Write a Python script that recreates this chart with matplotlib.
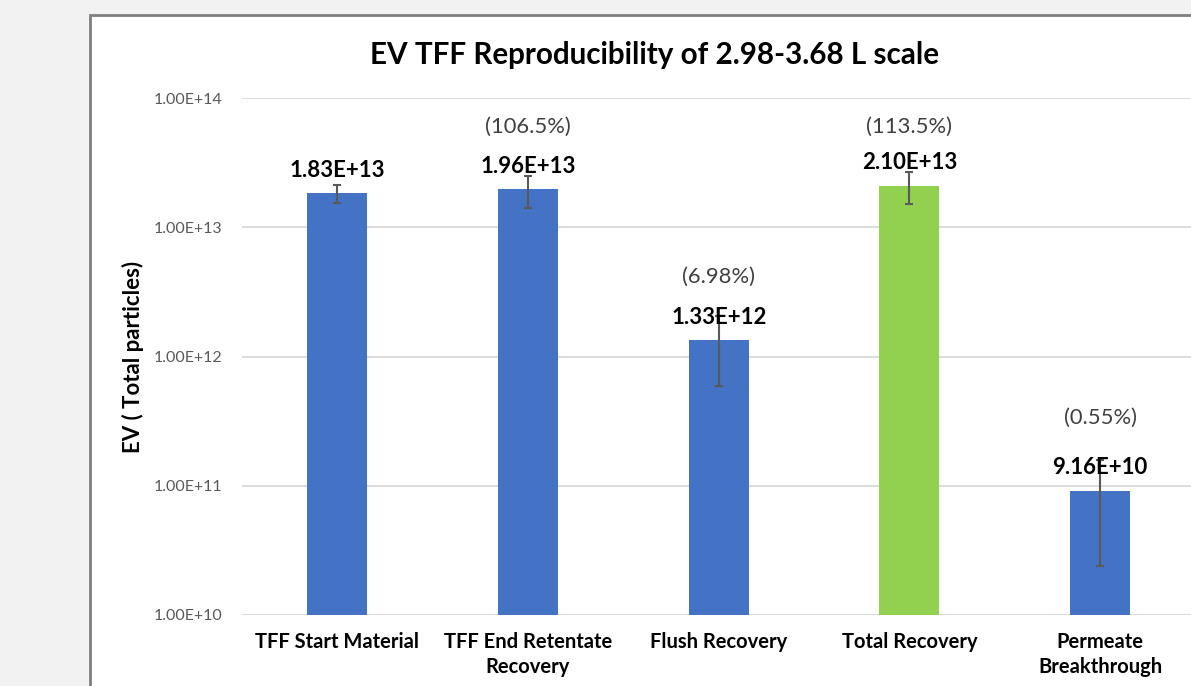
import numpy as np
import matplotlib.pyplot as plt
from matplotlib.patches import Rectangle

plt.rcParams['font.family'] = ['Lato', 'DejaVu Sans']

# data
categories = ['TFF Start Material', 'TFF End Retentate\nRecovery', 'Flush Recovery',
              'Total Recovery', 'Permeate\nBreakthrough']
ev_total = [1.83e13, 1.96e13, 1.33e12, 2.10e13, 9.16e10]
ev_err = [0.30e13, 0.54e13, 0.74e12, 0.58e13, 6.77e10]
value_labels = ['1.83E+13', '1.96E+13', '1.33E+12', '2.10E+13', '9.16E+10']
pct_labels = ['', '(106.5%)', '(6.98%)', '(113.5%)', '(0.55%)']
bar_colors = ['#4472C4', '#4472C4', '#4472C4', '#92D050', '#4472C4']
pct_offset_px = [0, 63, 64, 59, 73]

W, H = 1191, 686
fig = plt.figure(figsize=(W / 100, H / 100), dpi=100)
fig.patch.set_facecolor('#f2f2f2')

# chart area box (white, grey border), cut off at right/bottom like the screenshot
fig.patches.append(Rectangle((90 / W, -0.1), 1.2, 1 - 15 / H + 0.1, transform=fig.transFigure,
                             facecolor='white', edgecolor='#7f7f7f', linewidth=2, zorder=-1))

ax = fig.add_axes([242 / W, 1 - 615 / H, (1195.5 - 242) / W, (615 - 98) / H])
ax.set_facecolor('none')
ax.set_zorder(1)

x = np.arange(len(categories))
ax.bar(x, ev_total, width=0.315, color=bar_colors, zorder=3)
ax.errorbar(x, ev_total, yerr=ev_err, fmt='none', ecolor='#595959', elinewidth=1.5,
            capsize=3, capthick=1.5, zorder=4)

ax.set_yscale('log')
ax.set_ylim(1e10, 1e14)
ax.set_xlim(-0.5, len(categories) - 0.5)
ax.set_yticks([1e10, 1e11, 1e12, 1e13, 1e14])
ax.set_yticklabels(['1.00E+10', '1.00E+11', '1.00E+12', '1.00E+13', '1.00E+14'])
ax.minorticks_off()
ax.yaxis.grid(True, color='#d9d9d9', linewidth=1.3, zorder=0)
ax.set_axisbelow(True)
for s in ax.spines.values():
    s.set_visible(False)
ax.tick_params(axis='y', length=0, pad=14, labelsize=11.5, labelcolor='#595959')
ax.tick_params(axis='x', length=0, pad=12, labelsize=14.5)
ax.set_xticks(x)
ax.set_xticklabels(categories, fontweight='bold', linespacing=1.35)

for i in range(len(categories)):
    ax.annotate(value_labels[i], (x[i], ev_total[i]), xytext=(0, 23), textcoords='offset pixels',
                ha='center', va='center', fontsize=16, fontweight='bold', color='black', zorder=5)
    if pct_labels[i]:
        ax.annotate(pct_labels[i], (x[i], ev_total[i]), xytext=(0, pct_offset_px[i]),
                    textcoords='offset pixels', ha='center', va='center',
                    fontsize=15.8, color='#404040', zorder=5)

fig.text(133 / W, 1 - 357 / H, 'EV ( Total particles)', rotation=90, ha='center', va='center',
         fontsize=16, fontweight='bold')
fig.text(655 / W, 1 - 55 / H, 'EV TFF Reproducibility of 2.98-3.68 L scale', ha='center',
         va='center', fontsize=21.3, fontweight='bold')

fig.savefig('out.png', dpi=100, facecolor=fig.get_facecolor())
